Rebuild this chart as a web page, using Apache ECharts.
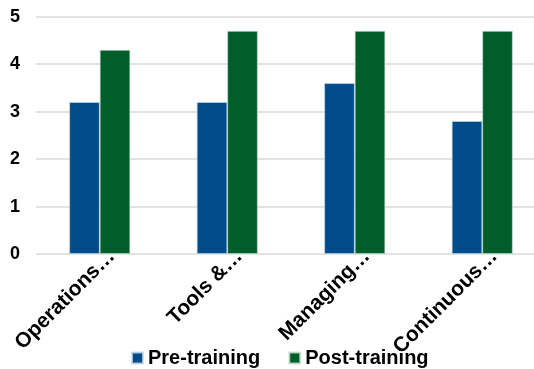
<!DOCTYPE html>
<html>
<head>
<meta charset="utf-8">
<script src="https://cdn.jsdelivr.net/npm/echarts@6/dist/echarts.min.js"></script>
<style>html,body{margin:0;padding:0;background:#fff}#c{width:534px;height:369px}</style>
</head>
<body>
<div id="c"></div>
<script>
const categories = ['Operations…', 'Tools &…', 'Managing…', 'Continuous…'];
const preTraining = [3.2, 3.2, 3.6, 2.8];
const postTraining = [4.3, 4.7, 4.7, 4.7];
const seriesNames = ['Pre-training', 'Post-training'];
const yTicks = [0, 1, 2, 3, 4, 5];

const FONT = '"Liberation Sans", Arial, sans-serif';
const chart = echarts.init(document.getElementById('c'), null, {renderer: 'canvas'});
chart.setOption({
  animation: false,
  grid: {left: 36, right: -12, top: 16.7, bottom: 115, containLabel: false, outerBoundsMode: 'none'},
  legend: {
    data: seriesNames,
    left: 126, top: 343,
    itemWidth: 11, itemHeight: 11, itemGap: 28,
    icon: 'rect',
    textStyle: {fontFamily: FONT, fontWeight: 'bold', fontSize: 20, color: '#000'}
  },
  xAxis: {
    type: 'category',
    data: categories,
    axisLine: {show: false},
    axisTick: {show: false},
    axisLabel: {
      rotate: 45, margin: 11, interval: 0,
      padding: [32, -17, 0, 0],
      fontFamily: FONT, fontWeight: 'bold', fontSize: 21, color: '#000'
    }
  },
  yAxis: {
    type: 'value', min: yTicks[0], max: yTicks[yTicks.length - 1], interval: 1,
    axisLine: {show: false}, axisTick: {show: false},
    splitLine: {lineStyle: {color: '#d9d9d9', width: 1.5}},
    axisLabel: {margin: 16, fontFamily: FONT, fontWeight: 'bold', fontSize: 18, color: '#000'}
  },
  series: [
    {name: seriesNames[0], type: 'bar', data: preTraining, barWidth: 30.5, barGap: '0%',
     itemStyle: {color: '#004C8B', borderColor: 'rgba(200,215,230,0.8)', borderWidth: 0.8}},
    {name: seriesNames[1], type: 'bar', data: postTraining, barWidth: 30.5, barGap: '0%',
     itemStyle: {color: '#005E2B', borderColor: 'rgba(200,225,210,0.8)', borderWidth: 0.8}}
  ]
});
</script>
</body>
</html>
